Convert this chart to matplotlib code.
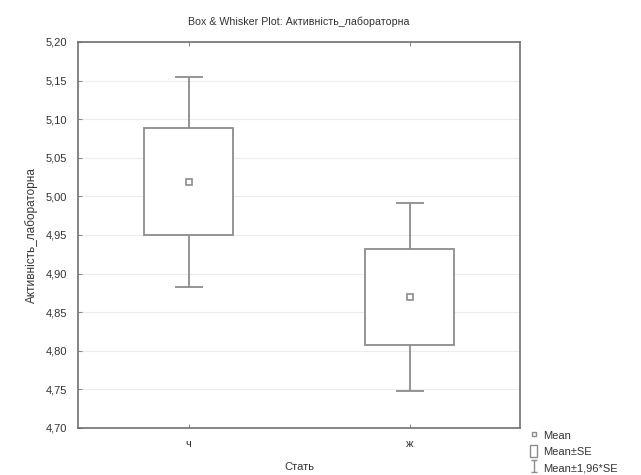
import matplotlib.pyplot as plt
from matplotlib.patches import Patch
from matplotlib.lines import Line2D
from matplotlib.path import Path

plt.rcParams['font.family'] = ['Liberation Sans', 'DejaVu Sans']

# values
groups = ['ч', 'ж']
means = [5.019, 4.870]
se_lo = [4.950, 4.808]
se_hi = [5.089, 4.932]
ci_lo = [4.882, 4.748]
ci_hi = [5.155, 4.992]

y_ticks = [4.70, 4.75, 4.80, 4.85, 4.90, 4.95, 5.00, 5.05, 5.10, 5.15, 5.20]

line_c = '#8c8c8c'
text_c = '#333333'

fig = plt.figure(figsize=(6.41, 4.75), dpi=100)
ax = fig.add_axes([0.1217, 0.099, 0.69, 0.8126])

x = list(range(len(groups)))

for y in y_ticks:
    ax.axhline(y, color='#ececec', lw=0.8, zorder=0)

yerr = [[m - l for m, l in zip(means, ci_lo)], [h - m for m, h in zip(means, ci_hi)]]
ax.errorbar(x, means, yerr=yerr, fmt='none', ecolor=line_c, elinewidth=1.3,
            capsize=10, capthick=1.3, zorder=2)

ax.bar(x, [h - l for h, l in zip(se_hi, se_lo)], bottom=se_lo, width=0.4,
       facecolor='white', edgecolor=line_c, linewidth=1.3, zorder=3)

ax.plot(x, means, linestyle='none', marker='s', markersize=4, mfc='white',
        mec=line_c, mew=1.2, zorder=4)

ax.set_xlim(-0.5, 1.5)
ax.set_ylim(4.70, 5.20)
ax.set_xticks(x)
ax.set_xticklabels(groups)
ax.set_yticks(y_ticks)
ax.set_yticklabels([('%.2f' % v).replace('.', ',') for v in y_ticks])
ax.tick_params(direction='in', length=3, color=line_c, labelsize=8, labelcolor=text_c,
               top=True, pad=8)
for s in ax.spines.values():
    s.set_color('#707070')
    s.set_linewidth(1.2)

ax.set_title('Box & Whisker Plot: Активність_лабораторна', fontsize=7.7, color=text_c, pad=12)
ax.set_xlabel('Стать', fontsize=8, color=text_c, labelpad=9)
ax.set_ylabel('Активність_лабораторна', fontsize=8.5, color=text_c, labelpad=5)

# whisker symbol for the legend
whisk = Path([(-0.5, 1), (0.5, 1), (0, 1), (0, -1), (-0.5, -1), (0.5, -1)],
             [Path.MOVETO, Path.LINETO, Path.MOVETO, Path.LINETO, Path.MOVETO, Path.LINETO])

handles = [
    Line2D([], [], linestyle='none', marker='s', markersize=3.5, mfc='white', mec=line_c, mew=1),
    Patch(facecolor='white', edgecolor=line_c, linewidth=1),
    Line2D([], [], linestyle='none', marker=whisk, markersize=9, mfc='none', mec=line_c, mew=1),
]
fig.legend(handles, ['Mean', 'Mean±SE', 'Mean±1,96*SE'], loc='lower left',
           bbox_to_anchor=(0.815, -0.012), frameon=False, fontsize=8,
           handlelength=0.7, handleheight=1.3, handletextpad=0.5, labelspacing=0.35,
           labelcolor=text_c, borderpad=0.15)

fig.savefig('out.png', dpi=100)
